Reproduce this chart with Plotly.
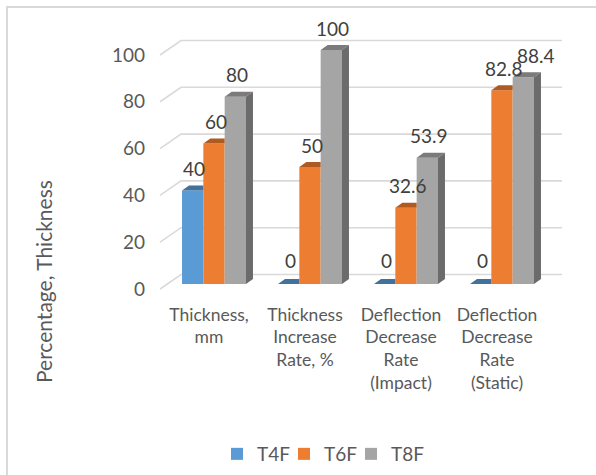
import plotly.graph_objects as go

# ---------------- data ----------------
categories = ["Thickness,<br>mm", "Thickness<br>Increase<br>Rate, %",
              "Deflection<br>Decrease<br>Rate<br>(Impact)", "Deflection<br>Decrease<br>Rate<br>(Static)"]
series_names = ["T4F", "T6F", "T8F"]
t4f = [40, 0, 0, 0]
t6f = [60, 50, 32.6, 82.8]
t8f = [80, 100, 53.9, 88.4]
y_ticks = [0, 20, 40, 60, 80, 100]

# ---------------- styling / geometry ----------------
front_colors = ["#5b9bd5", "#ed7d31", "#a5a5a5"]
top_colors = ["#41719c", "#ae5a21", "#7b7b7b"]
side_colors = ["#2f5a82", "#8c4a1a", "#6b6b6b"]
FONT = "Lato, Open Sans, sans-serif"
TXT = "#595959"

W, H = 596, 475
ML, MR, MT, MB = 160, 32, 30, 180
PW, PH = W - ML - MR, H - MT - MB
PX_PER_CAT = 96.0
PX_PER_UNIT = 2.34
X0 = (160 - 214) / PX_PER_CAT
XRANGE = [X0, X0 + PW / PX_PER_CAT]
Y0 = -(295 - 284) / PX_PER_UNIT
YRANGE = [Y0, Y0 + PH / PX_PER_UNIT]

BAR_W = 0.222
OFFSETS = [-1.5 * BAR_W, -0.5 * BAR_W, 0.5 * BAR_W]
DXU = 7 / PX_PER_CAT       # bar depth (x)
DYU = 5 / PX_PER_UNIT      # bar depth (y)
WALL_DX_L = (181 - 214) / PX_PER_CAT
WALL_DX_R = (562 - 214) / PX_PER_CAT
WALL_UP = (284 - 274.5) / PX_PER_UNIT
FRONT_DOWN = (289 - 284) / PX_PER_UNIT

values = [t4f, t6f, t8f]
xpos = list(range(len(categories)))

fig = go.Figure()

# front faces
for j, name in enumerate(series_names):
    fig.add_trace(go.Bar(x=xpos, y=values[j], name=name, width=BAR_W, offset=OFFSETS[j],
                         marker=dict(color=front_colors[j], line=dict(width=0)),
                         showlegend=True))

# invisible spacer entry so the last legend label is not clipped
fig.add_trace(go.Scatter(x=[None], y=[None], mode="none", name=" ", showlegend=True,
                         hoverinfo="skip"))

# top and side faces
for j in range(len(series_names)):
    tx, ty, sx, sy = [], [], [], []
    for i in xpos:
        v = values[j][i]
        xl = i + OFFSETS[j]
        xr = xl + BAR_W
        nxt = values[j + 1][i] if j + 1 < len(values) else None
        if nxt is not None and nxt >= v + DYU:
            tx += [xl, xr, xr, xl + DXU, xl, None]
            ty += [v, v, v + DYU, v + DYU, v, None]
        else:
            tx += [xl, xr, xr + DXU, xl + DXU, xl, None]
            ty += [v, v, v + DYU, v + DYU, v, None]
            base = nxt if nxt is not None else 0
            sx += [xr, xr + DXU, xr + DXU, xr, xr, None]
            sy += [base, base + DYU, v + DYU, v, base, None]
    fig.add_trace(go.Scatter(x=tx, y=ty, fill="toself", mode="lines", line=dict(width=0),
                             fillcolor=top_colors[j], showlegend=False, hoverinfo="skip"))
    if sx:
        fig.add_trace(go.Scatter(x=sx, y=sy, fill="toself", mode="lines", line=dict(width=0),
                                 fillcolor=side_colors[j], showlegend=False, hoverinfo="skip"))

# back wall + side wall gridlines
for t in y_ticks:
    fig.add_shape(type="path", xref="x", yref="y", layer="below",
                  path=f"M {X0},{t - FRONT_DOWN} L {WALL_DX_L},{t + WALL_UP} L {WALL_DX_R},{t + WALL_UP}",
                  line=dict(color="#d9d9d9", width=1.6))

# data labels
LABEL_NUDGE = {(3, 2): 11}
for j in range(len(series_names)):
    for i in xpos:
        v = values[j][i]
        xc = i + OFFSETS[j] + BAR_W / 2
        fig.add_annotation(x=xc, y=v, xref="x", yref="y", text=f"{v:g}", showarrow=False,
                           xshift=1.5 + LABEL_NUDGE.get((i, j), 0), yshift=22 + (2 if v == 0 else 0),
                           yanchor="middle", font=dict(family=FONT, size=19, color="#404040"))

# y axis title
fig.add_annotation(text="Percentage, Thickness", xref="paper", yref="paper",
                   x=(43 - ML) / PW, y=(MT + PH - 282) / PH, textangle=-90, showarrow=False,
                   xanchor="center", yanchor="middle", font=dict(family=FONT, size=21, color=TXT))

# chart border
fig.add_shape(type="rect", xref="paper", yref="paper",
              x0=(7 - ML) / PW, x1=(640 - ML) / PW, y0=(MT + PH - 520) / PH, y1=(MT + PH - 7) / PH,
              line=dict(color="#d9d9d9", width=2), layer="below")

fig.update_layout(
    width=W, height=H, margin=dict(l=ML, r=MR, t=MT, b=MB, autoexpand=False),
    paper_bgcolor="white", plot_bgcolor="rgba(0,0,0,0)",
    barmode="overlay",
    xaxis=dict(range=XRANGE, tickvals=xpos, ticktext=categories, showgrid=False, zeroline=False,
               showline=False, ticks="", ticklabelstandoff=7, ticklabelshift=-5,
               tickfont=dict(family=FONT, size=17.5, color=TXT), fixedrange=True),
    yaxis=dict(range=YRANGE, tickvals=y_ticks, showgrid=False, zeroline=False, showline=False,
               ticks="", ticklabelshift=5, ticklabelstandoff=14,
               tickfont=dict(family=FONT, size=19, color=TXT), fixedrange=True),
    legend=dict(orientation="h", xanchor="left", yanchor="middle",
                x=(217 - ML) / PW, y=(MT + PH - 454) / PH,
                entrywidth=22, entrywidthmode="pixels",
                font=dict(family=FONT, size=19, color=TXT), itemwidth=30,
                traceorder="normal"),
    showlegend=True,
)

fig.write_html("out.html", config={"displayModeBar": False},
               post_script="document.body.style.margin='0';")
